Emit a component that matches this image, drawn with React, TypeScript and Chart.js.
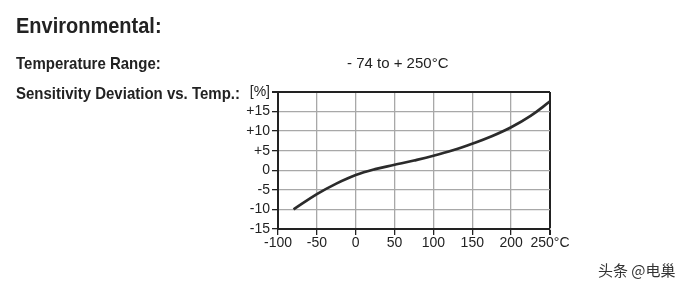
import React, { useEffect, useRef } from 'react';
import { Chart, registerables } from 'chart.js';

Chart.register(...registerables);

// Data
const temperatures = [-80, -50, -25, 0, 25, 50, 75, 100, 125, 150, 175, 200, 225, 250];
const deviation = [-10, -6.1, -3.4, -1.2, 0.3, 1.4, 2.5, 3.7, 5.1, 6.8, 8.7, 11.0, 13.9, 17.6];

const xTickValues = [-100, -50, 0, 50, 100, 150, 200, 250];
const xTickLabels = ['-100', '-50', '0', '50', '100', '150', '200', '250°C'];
const yTickValues = [-15, -10, -5, 0, 5, 10, 15, 20];
const yTickLabels = ['-15', '-10', '-5', '0', '+5', '+10', '+15', '[%]'];

const FONT = '"Liberation Sans", Arial, Helvetica, sans-serif';
const INK = '#222';

export default function App() {
  const canvasRef = useRef<HTMLCanvasElement | null>(null);

  useEffect(() => {
    const canvas = canvasRef.current;
    if (!canvas) return;
    const xMin = xTickValues[0];
    const xMax = xTickValues[xTickValues.length - 1];
    const yMin = yTickValues[0];
    const yMax = yTickValues[yTickValues.length - 1];

    const chart = new Chart(canvas, {
      type: 'line',
      data: {
        datasets: [
          {
            data: temperatures.map((t, i) => ({ x: t, y: deviation[i] })),
            borderColor: '#2b2b2b',
            borderWidth: 2.7,
            pointRadius: 0,
            tension: 0.4,
            fill: false,
          },
        ],
      },
      options: {
        animation: false,
        responsive: false,
        devicePixelRatio: 1,
        events: [],
        layout: { padding: { left: 236, right: 149, top: 92, bottom: 31 } },
        plugins: { legend: { display: false }, tooltip: { enabled: false } },
        scales: {
          x: {
            type: 'linear',
            min: xMin,
            max: xMax,
            afterBuildTicks: (scale: any) => {
              scale.ticks = xTickValues.map((v) => ({ value: v }));
            },
            afterFit: (scale: any) => {
              scale.height = 30;
            },
            ticks: {
              autoSkip: false,
              maxRotation: 0,
              padding: 0,
              color: INK,
              font: { family: FONT, size: 14 },
              callback: (v: any) => {
                const i = xTickValues.indexOf(Number(v));
                return i >= 0 ? xTickLabels[i] : '';
              },
            },
            grid: {
              color: (ctx: any) => (ctx.tick && ctx.tick.value === xMax ? INK : '#a8a8a8'),
              lineWidth: (ctx: any) => (ctx.tick && ctx.tick.value === xMax ? 2 : 1.3),
              tickColor: INK,
              tickLength: 6,
            },
            border: { color: INK, width: 2 },
          },
          y: {
            type: 'linear',
            min: yMin,
            max: yMax,
            afterBuildTicks: (scale: any) => {
              scale.ticks = yTickValues.map((v) => ({ value: v }));
            },
            afterFit: (scale: any) => {
              scale.width = 42;
            },
            ticks: {
              autoSkip: false,
              padding: 2,
              color: INK,
              font: { family: FONT, size: 14 },
              callback: (v: any) => {
                const i = yTickValues.indexOf(Number(v));
                return i >= 0 ? yTickLabels[i] : '';
              },
            },
            grid: {
              color: (ctx: any) => (ctx.tick && ctx.tick.value === yMax ? INK : '#a8a8a8'),
              lineWidth: (ctx: any) => (ctx.tick && ctx.tick.value === yMax ? 2 : 1.3),
              tickColor: INK,
              tickLength: 6,
            },
            border: { color: INK, width: 2 },
          },
        },
      },
    } as any);

    return () => chart.destroy();
  }, []);

  const base: React.CSSProperties = {
    position: 'absolute',
    margin: 0,
    lineHeight: 1,
    whiteSpace: 'nowrap',
    color: INK,
    fontFamily: FONT,
  };

  return (
    <div
      style={{
        position: 'fixed',
        left: 0,
        top: 0,
        width: 699,
        height: 290,
        background: '#fff',
        overflow: 'hidden',
      }}
    >
      <canvas
        ref={canvasRef}
        width={699}
        height={290}
        style={{ position: 'absolute', left: 0, top: 0, width: 699, height: 290, display: 'block' }}
      />
      <div style={{ ...base, left: 16, top: 15, fontSize: 20, fontWeight: 'bold', transform: 'scaleY(1.1)' }}>
        Environmental:
      </div>
      <div style={{ ...base, left: 16, top: 55, fontSize: 15, fontWeight: 'bold', transform: 'scaleY(1.1)' }}>
        Temperature Range:
      </div>
      <div style={{ ...base, left: 347, top: 55, fontSize: 15 }}>- 74 to + 250°C</div>
      <div style={{ ...base, left: 16, top: 85, fontSize: 15, fontWeight: 'bold', transform: 'scaleY(1.1)' }}>
        Sensitivity Deviation vs. Temp.:
      </div>
      <div
        style={{
          ...base,
          left: 598,
          top: 262,
          fontSize: 15,
          color: '#333',
          fontFamily: '"Noto Sans CJK SC", sans-serif',
          textShadow: '0 0 2px #fff, 0 0 2px #fff',
        }}
      >
        头条 @电巢
      </div>
    </div>
  );
}
